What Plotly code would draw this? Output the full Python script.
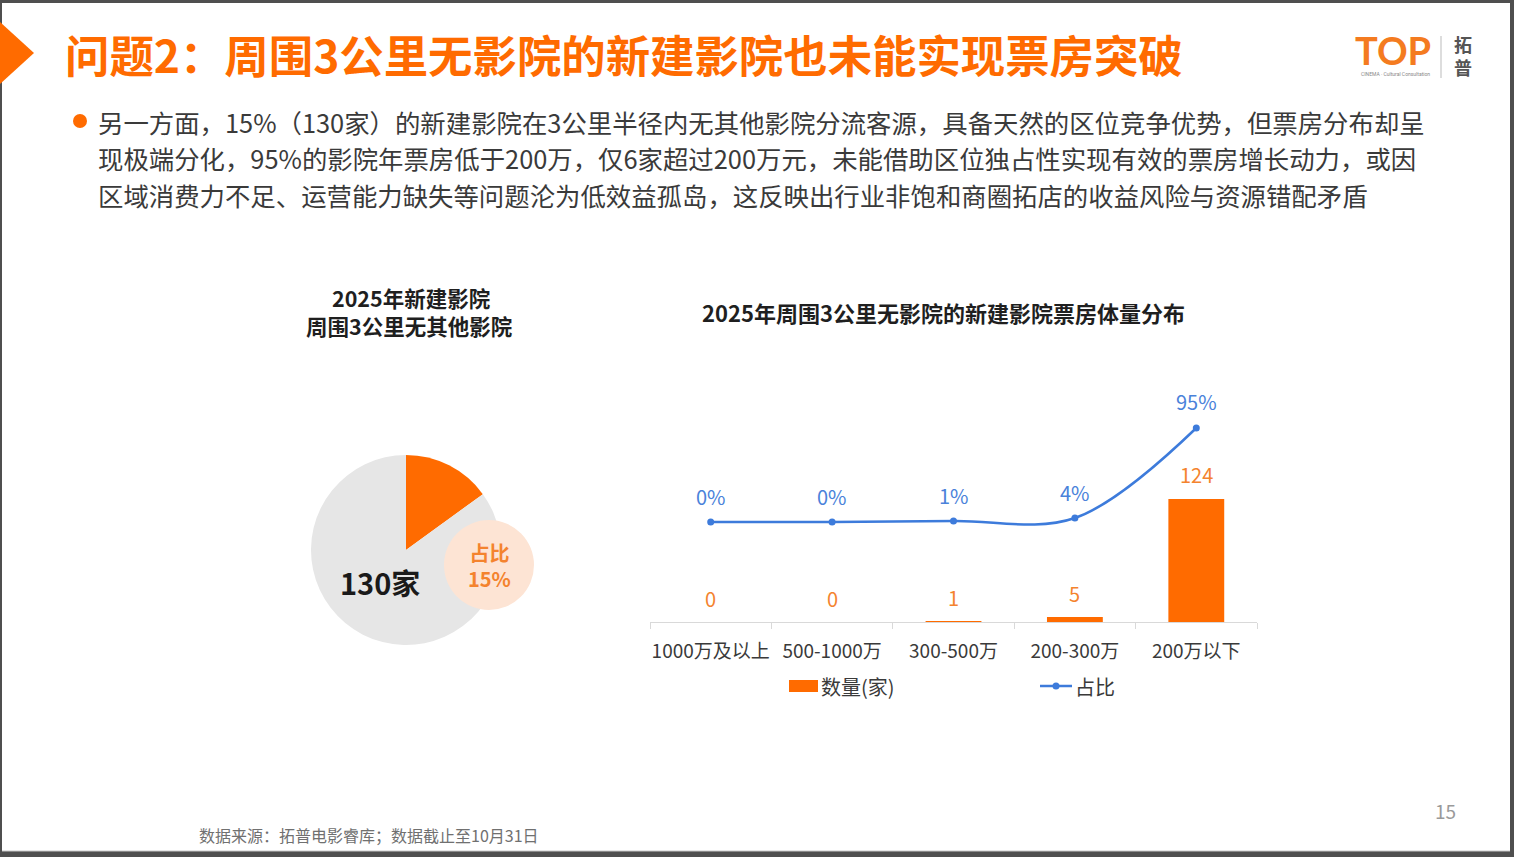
import plotly.graph_objects as go

W, H = 1514, 857

# ---------------- data ----------------
categories = ["1000万及以上", "500-1000万", "300-500万", "200-300万", "200万以下"]
counts = [0, 0, 1, 5, 124]
shares = [0.0, 0.0, 0.01, 0.04, 0.95]
share_labels = ["0%", "0%", "1%", "4%", "95%"]

pie_labels = ["周围3公里无其他影院", "其他"]
pie_values = [15, 85]
pie_total_text = "130家"
pie_share_text = "占比<br>15%"

title_text = "问题2：周围3公里无影院的新建影院也未能实现票房突破"
body_lines = [
    "另一方面，15%（130家）的新建影院在3公里半径内无其他影院分流客源，具备天然的区位竞争优势，但票房分布却呈",
    "现极端分化，95%的影院年票房低于200万，仅6家超过200万元，未能借助区位独占性实现有效的票房增长动力，或因",
    "区域消费力不足、运营能力缺失等问题沦为低效益孤岛，这反映出行业非饱和商圈拓店的收益风险与资源错配矛盾",
]
pie_title_lines = ["2025年新建影院", "周围3公里无其他影院"]
chart_title = "2025年周围3公里无影院的新建影院票房体量分布"
legend_names = ["数量(家)", "占比"]
footer_text = "数据来源：拓普电影睿库；数据截止至10月31日"
page_no = "15"

# ---------------- style ----------------
FONT = "Noto Sans CJK SC, Microsoft YaHei, sans-serif"
ORANGE = "#FF6B00"
ORANGE_TXT = "#F4832E"
BLUE = "#3D7BDB"
BLUE_TXT = "#4A82DA"
GRAY_PIE = "#E6E6E6"
TXT = "#3A3A3A"


def px(x):
    return x / W


def py(y):
    return 1 - y / H


# plot area geometry
X0, X1 = 650, 1257
YB, YT = 622, 380
h = YB - YT
y1_scale = 123 / 124
y1_range = [0, h / y1_scale]
y2_scale = 94 / 0.95
y2_zero = 100
y2_range = [-y2_zero / y2_scale, (h - y2_zero) / y2_scale]

fig = go.Figure()

fig.add_trace(go.Bar(
    x=categories, y=counts, name=legend_names[0],
    marker=dict(color=ORANGE, line=dict(width=0)), width=0.46,
    hoverinfo="skip", showlegend=False,
))
fig.add_trace(go.Scatter(
    x=categories, y=shares, name=legend_names[1], yaxis="y2",
    mode="lines+markers",
    line=dict(color=BLUE, width=2.5, shape="spline", smoothing=1.0),
    marker=dict(color=BLUE, size=7),
    cliponaxis=False, hoverinfo="skip", showlegend=False,
))
fig.add_trace(go.Pie(
    labels=pie_labels, values=pie_values, sort=False, direction="clockwise", rotation=0,
    marker=dict(colors=[ORANGE, GRAY_PIE], line=dict(width=0)),
    textinfo="none", hoverinfo="skip", showlegend=False,
    domain=dict(x=[px(311), px(501)], y=[py(645), py(455)]),
))

annotations = []
# bar value labels
for c, v in zip(categories, counts):
    annotations.append(dict(x=c, y=v, xref="x", yref="y", text=str(v), showarrow=False,
                            yanchor="middle", yshift=24,
                            font=dict(family=FONT, size=20, color=ORANGE_TXT)))
# line labels
for c, v, t in zip(categories, shares, share_labels):
    annotations.append(dict(x=c, y=v, xref="x", yref="y2", text=t, showarrow=False,
                            yanchor="middle", yshift=26,
                            font=dict(family=FONT, size=20, color=BLUE_TXT)))

# title
annotations.append(dict(x=px(63), y=py(53), xref="paper", yref="paper", xanchor="left", yanchor="middle",
                        text="<b>" + title_text + "</b>", showarrow=False,
                        font=dict(family=FONT, size=44.4, color=ORANGE)))
# body text
for i, line in enumerate(body_lines):
    annotations.append(dict(x=px(96), y=py(122 + i * 36.5), xref="paper", yref="paper",
                            xanchor="left", yanchor="middle", text=line, showarrow=False,
                            font=dict(family=FONT, size=25.4, color=TXT)))
# pie title (two lines)
for i, line in enumerate(pie_title_lines):
    annotations.append(dict(x=px(411 if i == 0 else 409), y=py(297 + i * 28), xref="paper", yref="paper",
                            xanchor="center", yanchor="middle",
                            text="<b>" + line + "</b>", showarrow=False,
                            font=dict(family=FONT, size=21.5, color="#1F1F1F")))
# chart title
annotations.append(dict(x=px(943), y=py(312), xref="paper", yref="paper", xanchor="center", yanchor="middle",
                        text="<b>" + chart_title + "</b>", showarrow=False,
                        font=dict(family=FONT, size=22, color="#1F1F1F")))
# pie center text
annotations.append(dict(x=px(380), y=py(582), xref="paper", yref="paper", xanchor="center", yanchor="middle",
                        text="<b>" + pie_total_text + "</b>", showarrow=False,
                        font=dict(family=FONT, size=29, color="#1A1A1A")))
annotations.append(dict(x=px(489), y=py(565), xref="paper", yref="paper", xanchor="center", yanchor="middle",
                        text="<b>" + pie_share_text + "</b>", showarrow=False, align="center",
                        font=dict(family=FONT, size=20, color=ORANGE_TXT)))
# legend texts
annotations.append(dict(x=px(819), y=py(686), xref="paper", yref="paper", xanchor="left", yanchor="middle",
                        text=legend_names[0], showarrow=False,
                        font=dict(family=FONT, size=20, color=TXT)))
annotations.append(dict(x=px(1073), y=py(686), xref="paper", yref="paper", xanchor="left", yanchor="middle",
                        text=legend_names[1], showarrow=False,
                        font=dict(family=FONT, size=20, color=TXT)))
# footer, page number
annotations.append(dict(x=px(197), y=py(835), xref="paper", yref="paper", xanchor="left", yanchor="middle",
                        text=footer_text, showarrow=False,
                        font=dict(family=FONT, size=16, color="#707070")))
annotations.append(dict(x=px(1445), y=py(810), xref="paper", yref="paper", xanchor="center", yanchor="middle",
                        text=page_no, showarrow=False,
                        font=dict(family=FONT, size=19, color="#9A9A9A")))
# logo
annotations.append(dict(x=px(1393), y=py(50), xref="paper", yref="paper", xanchor="center", yanchor="middle",
                        text="<b>TOP</b>", showarrow=False,
                        font=dict(family="Lato, sans-serif", size=38, color="#F47B20")))
annotations.append(dict(x=px(1395), y=py(74), xref="paper", yref="paper", xanchor="center", yanchor="middle",
                        text="CINEMA · Cultural Consultation", showarrow=False,
                        font=dict(family="Roboto, sans-serif", size=5, color="#888888")))
annotations.append(dict(x=px(1463), y=py(56), xref="paper", yref="paper", xanchor="center", yanchor="middle",
                        text="<b>拓<br>普</b>", showarrow=False, align="center",
                        font=dict(family=FONT, size=18, color="#555555")))

shapes = [
    # white slide over dark frame
    dict(type="rect", xref="paper", yref="paper", x0=px(2), x1=px(1510), y0=py(851), y1=py(3),
         fillcolor="white", line=dict(width=0), layer="below"),
    dict(type="line", xref="paper", yref="paper", x0=px(2), x1=px(1510), y0=py(851), y1=py(851),
         line=dict(color="#C8C8C8", width=1), layer="below"),
    # title triangle
    dict(type="path", xref="paper", yref="paper",
         path=f"M {px(0)},{py(22)} L {px(34)},{py(53)} L {px(0)},{py(84)} Z",
         fillcolor=ORANGE, line=dict(width=0)),
    # bullet
    dict(type="circle", xref="paper", yref="paper", x0=px(73), x1=px(87), y0=py(128), y1=py(114),
         fillcolor=ORANGE, line=dict(width=0)),
    # logo divider
    dict(type="line", xref="paper", yref="paper", x0=px(1441), x1=px(1441), y0=py(78), y1=py(36),
         line=dict(color="#BBBBBB", width=1)),
    # pie share bubble
    dict(type="circle", xref="paper", yref="paper", x0=px(444), x1=px(534), y0=py(610), y1=py(520),
         fillcolor="#FDE4D4", line=dict(width=0), layer="above"),
    # legend symbols
    dict(type="rect", xref="paper", yref="paper", x0=px(789), x1=px(818), y0=py(692), y1=py(680),
         fillcolor=ORANGE, line=dict(width=0)),
    dict(type="line", xref="paper", yref="paper", x0=px(1040), x1=px(1072), y0=py(686), y1=py(686),
         line=dict(color=BLUE, width=2.5)),
    dict(type="circle", xref="paper", yref="paper", x0=px(1052.5), x1=px(1059.5), y0=py(689.5), y1=py(682.5),
         fillcolor=BLUE, line=dict(width=0)),
]

fig.update_layout(
    width=W, height=H,
    autosize=False,
    margin=dict(l=0, r=0, t=0, b=0),
    paper_bgcolor="#4F4F4F",
    plot_bgcolor="rgba(0,0,0,0)",
    showlegend=False,
    font=dict(family=FONT),
    xaxis=dict(domain=[px(X0), px(X1)], type="category", showline=True, linecolor="#D9D9D9", linewidth=1,
               ticks="outside", tickson="boundaries", ticklen=6, tickcolor="#D9D9D9", tickangle=0,
               tickfont=dict(family=FONT, size=19, color=TXT), ticklabelstandoff=12,
               showgrid=False, zeroline=False, fixedrange=True),
    yaxis=dict(domain=[py(YB), py(YT)], range=y1_range, visible=False, showgrid=False, fixedrange=True),
    yaxis2=dict(overlaying="y", range=y2_range, visible=False, showgrid=False, fixedrange=True),
    annotations=annotations,
    shapes=shapes,
    bargap=0.5,
)

fig.write_html("out.html", config={"responsive": False, "displayModeBar": False})
